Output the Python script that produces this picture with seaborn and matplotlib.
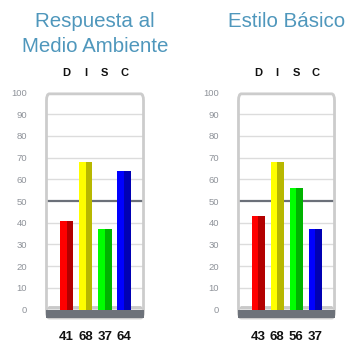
import matplotlib
matplotlib.use("Agg")
import matplotlib.pyplot as plt
import matplotlib.transforms as mtransforms
from matplotlib.patches import FancyBboxPatch, Rectangle, Polygon
import seaborn as sns
import numpy as np

# ---- data ----
letters = ["D", "I", "S", "C"]
titles = [["Respuesta al", "Medio Ambiente"], ["Estilo Básico"]]
values_left = [41, 68, 37, 64]
values_right = [43, 68, 56, 37]
yticks = [0, 10, 20, 30, 40, 50, 60, 70, 80, 90, 100]
light_colors = ["#ff0000", "#ffff00", "#00ff00", "#0000ff"]
dark_colors = ["#b30000", "#b8b800", "#00b300", "#0000b3"]
midline = 50

sns.set_theme(style="white")
plt.rcParams["font.family"] = ["Liberation Sans", "DejaVu Sans"]

W, H = 363, 343
fig = plt.figure(figsize=(W / 100, H / 100), dpi=100)

YMIN = -3.9
BW = 0.7
title_color = "#4f97bc"


def px_axes(x0, x1, ytop, ybot):
    return [x0 / W, (H - ybot) / H, (x1 - x0) / W, (ybot - ytop) / H]


def panel(rect, values, title_lines):
    ax = fig.add_axes(rect)
    sns.barplot(x=letters, y=values, hue=letters, palette=light_colors,
                width=BW, dodge=False, legend=False, ax=ax, saturation=1,
                linewidth=0, edgecolor="none", zorder=3)
    xs = np.arange(len(values))
    ax.bar(xs, values, width=BW / 2, align="edge", color=dark_colors,
           zorder=3.5, linewidth=0)
    ax.set_xlim(-1.07, 4.04)
    ax.set_ylim(YMIN, 100)
    for s in ax.spines.values():
        s.set_visible(False)
    ax.set_xlabel("")
    ax.set_ylabel("")
    ax.set_xticks([])
    ax.set_yticks(yticks)
    ax.set_yticklabels([str(t) for t in yticks])
    ax.tick_params(axis="y", length=0, pad=13.5, labelsize=6.8,
                   labelcolor="#8f939a")
    # grid
    for t in yticks[1:-1]:
        if t == midline:
            continue
        ax.axhline(t, color="#dcdcdc", lw=1.0, zorder=1)
    ax.axhline(midline, color="#6b7079", lw=1.6, zorder=2)
    trans = mtransforms.blended_transform_factory(ax.transAxes, ax.transData)
    # floor
    ax.add_patch(Polygon([[0.0, 0], [1.0, 0], [0.97, 1.6], [0.03, 1.6]],
                         closed=True, transform=trans, facecolor="#c9c9c9",
                         edgecolor="none", zorder=2.5))
    # base
    ax.add_patch(Rectangle((0, YMIN), 1, -YMIN, transform=trans,
                           facecolor="#6d727a", edgecolor="none", zorder=4,
                           clip_on=False))
    # frame
    ax.add_patch(FancyBboxPatch((0.005, 0.0), 0.99, 0.994,
                                boxstyle="round,pad=0,rounding_size=0.03",
                                transform=ax.transAxes, facecolor="none",
                                edgecolor="#cccccc", lw=2.0, zorder=2.8,
                                clip_on=False))
    tx = mtransforms.blended_transform_factory(ax.transData, ax.transAxes)
    for i, (l, v) in enumerate(zip(letters, values)):
        ax.text(i, 1.086, l, transform=tx, ha="center", va="center",
                fontsize=8, fontweight="bold", color="#111111")
        ax.text(i, -0.084, str(v), transform=tx, ha="center", va="center",
                fontsize=9.5, fontweight="bold", color="#111111")
    cx = rect[0] + rect[2] / 2
    for j, line in enumerate(title_lines):
        fig.text(cx, (H - (27 + 25 * j)) / H, line, ha="center",
                 va="baseline", fontsize=14.8, color=title_color)
    return ax


panel(px_axes(46, 144, 92.5, 318), values_left, titles[0])
panel(px_axes(238, 335, 92.5, 318), values_right, titles[1])

fig.savefig("out.png", dpi=100, facecolor="white")
